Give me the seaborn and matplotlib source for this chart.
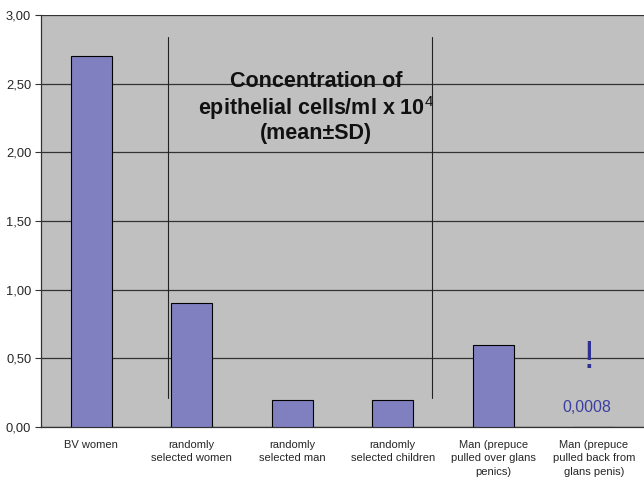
import matplotlib
matplotlib.use("Agg")
import matplotlib.pyplot as plt
import seaborn as sns
import pandas as pd
import numpy as np

categories = [
    "BV women",
    "randomly\nselected women",
    "randomly\nselected man",
    "randomly\nselected children",
    "Man (prepuce\npulled over glans\npenics)",
    "Man (prepuce\npulled back from\nglans penis)",
]
values = [2.70, 0.90, 0.20, 0.20, 0.60, 0.0008]
yticks = [0.0, 0.5, 1.0, 1.5, 2.0, 2.5, 3.0]

df = pd.DataFrame({"group": categories, "conc": values})

sns.set_style("white")
plt.rcParams["font.family"] = ["Liberation Sans", "DejaVu Sans"]
plt.rcParams["mathtext.fontset"] = "custom"
plt.rcParams["mathtext.rm"] = "Liberation Sans"
plt.rcParams["mathtext.bf"] = "Liberation Sans:bold"

fig = plt.figure(figsize=(6.44, 4.80), dpi=100)
ax = fig.add_axes([41 / 644, 53 / 480, 603 / 644, 412 / 480])
ax.set_facecolor("#C0C0C0")
fig.patch.set_facecolor("white")

sns.barplot(data=df, x="group", y="conc", color="#8080C0", width=0.41,
            edgecolor="#000000", linewidth=0.8, saturation=1, ax=ax, zorder=3)

ax.set_xlim(-0.5, len(categories) - 0.5)
ax.set_ylim(0, 3.0)
ax.set_yticks(yticks)
ax.set_yticklabels([f"{t:.2f}".replace(".", ",") for t in yticks], fontsize=9.3)
ax.yaxis.grid(True, color="#333333", linewidth=0.9, zorder=1)
ax.set_axisbelow(True)

# category labels centred, tick marks on category boundaries
ax.set_xticks(range(len(categories)))
ax.set_xticklabels(categories, fontsize=8, linespacing=1.45)
ax.tick_params(axis="x", which="major", length=0, pad=9)
ax.set_xticks(np.arange(-0.5, len(categories) - 0.4, 1.0), minor=True)
ax.tick_params(axis="x", which="minor", length=4, width=0.8, color="#333333")
ax.tick_params(axis="y", length=4, width=0.8, color="#333333", left=True, pad=3)
ax.set_xlabel("")
ax.set_ylabel("")

for side in ["top", "right"]:
    ax.spines[side].set_visible(False)
for side in ["left", "bottom"]:
    ax.spines[side].set_color("#333333")
    ax.spines[side].set_linewidth(0.9)

# separators between sample groups
for xv in [0.764, 3.39]:
    ax.plot([xv, xv], [0.21, 2.84], color="#222222", linewidth=0.8, zorder=4)

ax.text(2.24, 2.325, r"Concentration of" "\n" r"epithelial cells/ml x 10$^{\mathrm{4}}$" "\n" r"(mean±SD)",
        ha="center", va="center", fontsize=15.5, fontweight="bold",
        linespacing=1.1, color="#111111", zorder=5)

ax.text(4.95, 0.50, "!", ha="center", va="center", fontsize=28,
        color="#2E3192", zorder=5)
ax.text(4.93, 0.145, f"{values[5]}".replace(".", ","), ha="center", va="center",
        fontsize=11.5, color="#3A3FA0", zorder=5)

fig.savefig("out.png", dpi=100)
